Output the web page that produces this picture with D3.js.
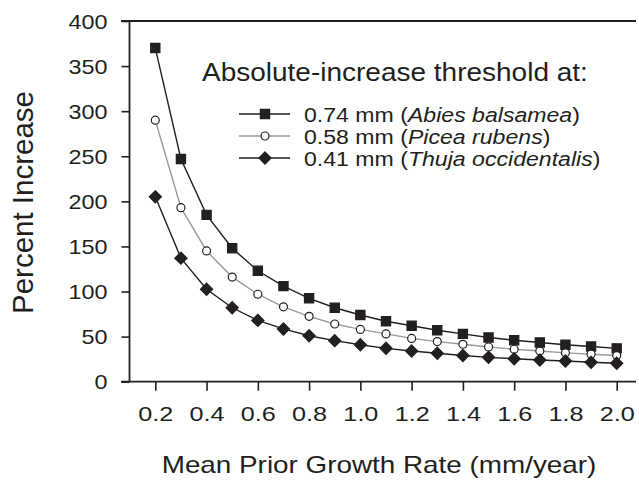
<!DOCTYPE html>
<html>
<head>
<meta charset="utf-8">
<script src="https://cdn.jsdelivr.net/npm/d3@7"></script>
<style>
  body { margin: 0; background: #fff; }
  svg text { font-family: "Liberation Sans", Arial, sans-serif; fill: #231f20; }
</style>
</head>
<body>
<div id="chart"></div>
<script>
// growth rates (mm/year)
var rates = [0.2, 0.3, 0.4, 0.5, 0.6, 0.7, 0.8, 0.9, 1.0, 1.1, 1.2, 1.3, 1.4, 1.5, 1.6, 1.7, 1.8, 1.9, 2.0]

// percent increase
var abies = [370, 247, 185, 148, 123, 106, 92.5, 82, 74, 67, 62, 57, 53, 49, 46, 43.5, 41, 39, 37]
var picea = [290, 193, 145, 116, 97, 83, 72.5, 64, 58, 53, 48, 44.5, 41.5, 38.5, 36, 34, 32, 30.5, 29]
var thuja = [205, 137, 102.5, 82, 68, 58.5, 51, 45.5, 41, 37, 34, 31.5, 29, 27, 25.5, 24, 23, 21.5, 20.5]

var xTicks = [0.2, 0.4, 0.6, 0.8, 1.0, 1.2, 1.4, 1.6, 1.8, 2.0]
var yTicks = [0, 50, 100, 150, 200, 250, 300, 350, 400]

var legendTitle = "Absolute-increase threshold at:"
var legendLabels = [
    { size: "0.74 mm (", species: "Abies balsamea" },
    { size: "0.58 mm (", species: "Picea rubens" },
    { size: "0.41 mm (", species: "Thuja occidentalis" }
]

var width = 639, height = 481
var ink = "#231f20"
var stretch = 1.17   // the figure's lettering is a little wide

var svg = d3.select("#chart")
    .append("svg")
    .attr("width", width)
    .attr("height", height)

var x = d3.scaleLinear()
    .domain([0.2, 2.0])
    .range([155.3, 616.7])

var y = d3.scaleLinear()
    .domain([0, 400])
    .range([381.7, 21])

// wide text placed at (px, py)
function wideText(px, py, size, sx) {
    return svg.append("text")
        .attr("transform", "translate(" + px + "," + py + ") scale(" + sx + ",1)")
        .style("font-size", size + "px")
}

// top frame line
svg.append("line")
    .attr("x1", 121).attr("x2", 636)
    .attr("y1", y(400)).attr("y2", y(400))
    .attr("stroke", ink).attr("stroke-width", 1.8)

// Y axis
var yAxis = svg.append("g")
    .attr("transform", "translate(129.5,0)")
    .call(d3.axisLeft(y).tickValues(yTicks).tickSize(8).tickFormat(d3.format("d")))
yAxis.select(".domain").attr("stroke", ink).attr("stroke-width", 1.8).attr("d", "M0," + y(0) + "V" + y(400))
yAxis.selectAll(".tick line").attr("stroke", ink).attr("stroke-width", 1.6)
yAxis.selectAll(".tick text")
    .style("font-size", "20px")
    .attr("fill", ink)
    .attr("x", -22 / stretch)
    .attr("dy", "0.36em")
    .attr("transform", "scale(" + stretch + ",1)")

// X axis
svg.append("line")
    .attr("x1", 121).attr("x2", 636)
    .attr("y1", y(0)).attr("y2", y(0))
    .attr("stroke", ink).attr("stroke-width", 1.8)

var xAxis = svg.append("g")
    .attr("transform", "translate(0," + y(0) + ")")
    .call(d3.axisBottom(x).tickValues(xTicks).tickSize(9).tickPadding(15).tickFormat(d3.format(".1f")))
xAxis.select(".domain").remove()
xAxis.selectAll(".tick line").attr("stroke", ink).attr("stroke-width", 1.6)
xAxis.selectAll(".tick text")
    .style("font-size", "21px")
    .attr("fill", ink)
    .attr("transform", "scale(1.2,1)")

// axis titles
wideText(379, 473, 24, 1.16)
    .attr("text-anchor", "middle")
    .text("Mean Prior Growth Rate (mm/year)")

svg.append("text")
    .attr("transform", "translate(33,202.5) rotate(-90)")
    .attr("text-anchor", "middle")
    .style("font-size", "29.5px")
    .text("Percent Increase")

// series
var diamond = {
    draw: function (context, size) {
        var r = Math.sqrt(size / 2)
        context.moveTo(0, -r)
        context.lineTo(r, 0)
        context.lineTo(0, r)
        context.lineTo(-r, 0)
        context.closePath()
    }
}

var series = [
    { values: abies, line: ink, shape: d3.symbolSquare, size: 85, fill: ink },
    { values: picea, line: "#9a9a9a", shape: d3.symbolCircle, size: 50, fill: "#fff" },
    { values: thuja, line: ink, shape: diamond, size: 74, fill: ink }
]

var line = d3.line()
    .x(function (d, i) { return x(rates[i]) })
    .y(function (d) { return y(d) })

series.forEach(function (s) {
    svg.append("path")
        .datum(s.values)
        .attr("d", line)
        .attr("fill", "none")
        .attr("stroke", s.line)
        .attr("stroke-width", 1.4)

    svg.append("g")
        .selectAll("path")
        .data(s.values)
        .enter()
        .append("path")
        .attr("transform", function (d, i) { return "translate(" + x(rates[i]) + "," + y(d) + ")" })
        .attr("d", d3.symbol().type(s.shape).size(s.size))
        .attr("fill", s.fill)
        .attr("stroke", ink)
        .attr("stroke-width", 1.2)
})

// legend
wideText(202, 80.5, 25, 1.12).text(legendTitle)

var rowY = [114, 136, 158]
series.forEach(function (s, i) {
    svg.append("line")
        .attr("x1", 239).attr("x2", 290)
        .attr("y1", rowY[i]).attr("y2", rowY[i])
        .attr("stroke", s.line).attr("stroke-width", 1.4)
    svg.append("path")
        .attr("transform", "translate(265," + rowY[i] + ")")
        .attr("d", d3.symbol().type(s.shape).size(s.size))
        .attr("fill", s.fill)
        .attr("stroke", ink)
        .attr("stroke-width", 1.2)
    var t = wideText(304, rowY[i], 21, 1.1).attr("dy", "0.36em")
    t.append("tspan").text(legendLabels[i].size)
    t.append("tspan").style("font-style", "italic").text(legendLabels[i].species)
    t.append("tspan").text(")")
})
</script>
</body>
</html>
